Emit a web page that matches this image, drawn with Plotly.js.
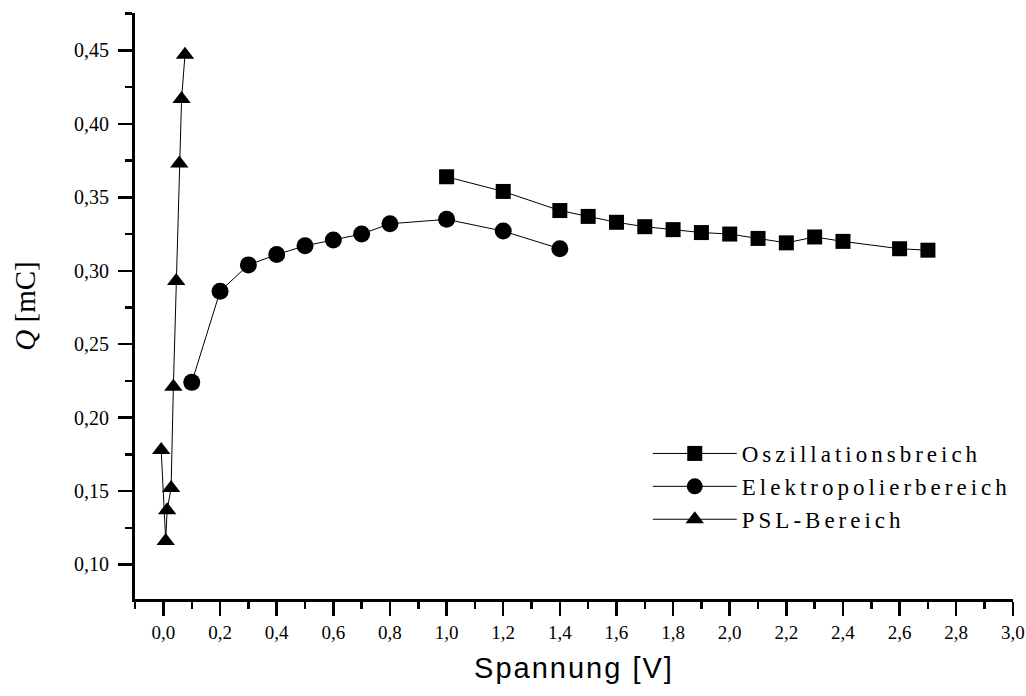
<!DOCTYPE html>
<html><head><meta charset="utf-8">
<script src="https://cdn.plot.ly/plotly-3.0.1.min.js"></script>
<style>body{margin:0;background:#fff}</style>
</head><body>
<div id="chart" style="width:1026px;height:696px"></div>
<script>
const oszName = 'Oszillationsbreich';
const oszX = [1.0, 1.2, 1.4, 1.5, 1.6, 1.7, 1.8, 1.9, 2.0, 2.1, 2.2, 2.3, 2.4, 2.6, 2.7];
const oszQ = [0.364, 0.354, 0.341, 0.337, 0.333, 0.330, 0.328, 0.326, 0.325, 0.322, 0.319, 0.323, 0.320, 0.315, 0.314];

const elekName = 'Elektropolierbereich';
const elekX = [0.1, 0.2, 0.3, 0.4, 0.5, 0.6, 0.7, 0.8, 1.0, 1.2, 1.4];
const elekQ = [0.224, 0.286, 0.304, 0.311, 0.317, 0.321, 0.325, 0.332, 0.335, 0.327, 0.315];

const pslName = 'PSL-Bereich';
const pslX = [-0.008, 0.008, 0.013, 0.027, 0.035, 0.045, 0.056, 0.064, 0.076];
const pslQ = [0.178, 0.116, 0.137, 0.152, 0.221, 0.293, 0.373, 0.417, 0.447];

const xTitle = 'Spannung [V]';
const yTitle = '<i>Q</i> [mC]';

function mk(name, x, y, symbol, size) {
  return {
    type: 'scatter', mode: 'lines+markers', name: name, x: x, y: y,
    line: {color: '#000', width: 1},
    marker: {symbol: symbol, size: size, color: '#000'}
  };
}

const data = [
  mk(oszName, oszX, oszQ, 'square', 15),
  mk(elekName, elekX, elekQ, 'circle', 17),
  mk(pslName, pslX, pslQ, 'triangle-up', 16)
];

const serif = 'Liberation Serif';
const sans = 'Liberation Sans';

const layout = {
  width: 1026, height: 696,
  margin: {l: 135, r: 13, t: 13, b: 97},
  paper_bgcolor: '#fff', plot_bgcolor: '#fff',
  separators: ',.',
  showlegend: true,
  legend: {
    x: 0.584, y: 0.285, xanchor: 'left', yanchor: 'top',
    bgcolor: 'rgba(0,0,0,0)', borderwidth: 0,
    font: {family: serif, size: 23, color: '#000'},
    itemwidth: 84, tracegroupgap: 0
  },
  xaxis: {
    range: [-0.1005, 3.0005], tick0: 0, dtick: 0.2, tickformat: '.1f',
    ticks: 'outside', ticklen: 14, tickwidth: 2.5, tickcolor: '#000',
    showline: true, linewidth: 3, linecolor: '#000', mirror: false,
    showgrid: false, zeroline: false,
    minor: {dtick: 0.1, tick0: 0, ticks: 'outside', ticklen: 7, tickwidth: 2.5, tickcolor: '#000', showgrid: false},
    tickfont: {family: serif, size: 19, color: '#000'},
    title: {text: xTitle, font: {family: sans, size: 29, color: '#000'}, standoff: 16}
  },
  yaxis: {
    range: [0.0765, 0.4755], tick0: 0.1, dtick: 0.05, tickformat: '.2f',
    ticks: 'outside', ticklen: 14, tickwidth: 2.5, tickcolor: '#000',
    showline: true, linewidth: 3, linecolor: '#000', mirror: false,
    showgrid: false, zeroline: false,
    ticklabelstandoff: 5,
    minor: {dtick: 0.025, tick0: 0.1, ticks: 'outside', ticklen: 7, tickwidth: 2.5, tickcolor: '#000', showgrid: false},
    tickfont: {family: serif, size: 20, color: '#000'},
    title: {text: yTitle, font: {family: serif, size: 29, color: '#000'}, standoff: 30}
  }
};

Plotly.newPlot('chart', data, layout, {staticPlot: true}).then(function () {
  document.querySelectorAll('#chart .legend [clip-path]').forEach(function (el) {
    el.removeAttribute('clip-path');
  });
  document.querySelectorAll('#chart .legendtext').forEach(function (el) {
    el.style.letterSpacing = '4px';
  });
  document.querySelectorAll('#chart .xtitle').forEach(function (el) {
    el.style.letterSpacing = '2px';
  });
});
</script>
</body></html>
